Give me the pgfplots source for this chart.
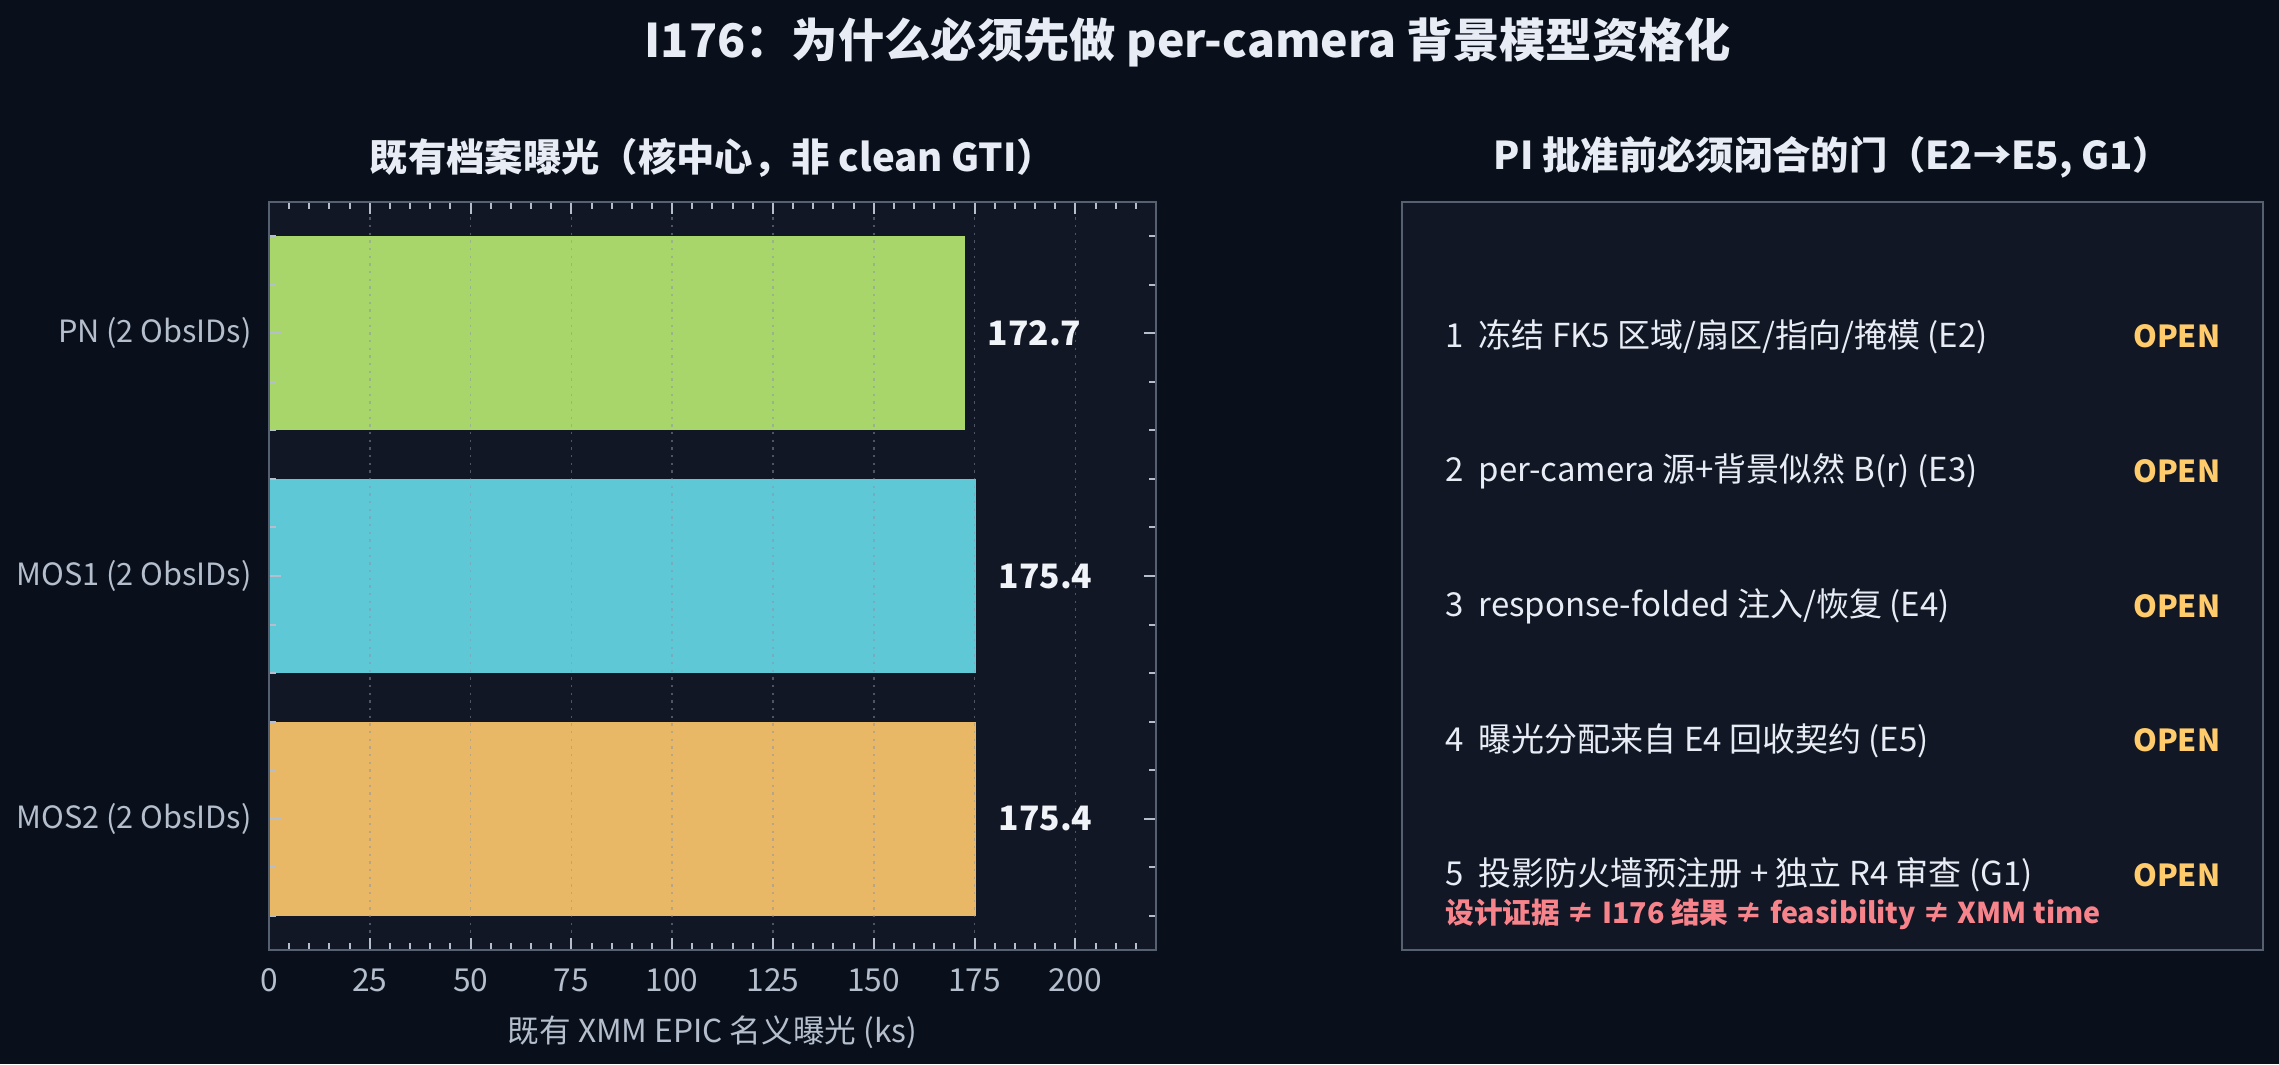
\documentclass[border=0pt]{standalone}
\usepackage{pgfplots}
\pgfplotsset{compat=1.18}
\usepackage{fontspec}
\setmainfont{Noto Sans CJK SC}
\definecolor{bgc}{HTML}{0A101B}
\definecolor{facec}{HTML}{111725}
\definecolor{spinec}{HTML}{556070}
\definecolor{tickc}{HTML}{B4BECD}
\definecolor{titlec}{HTML}{E8ECF4}
\definecolor{valc}{HTML}{F0F3F8}
\definecolor{gridc}{HTML}{8A94A6}
\definecolor{barg}{HTML}{A9D66B}
\definecolor{barc}{HTML}{5EC8D6}
\definecolor{baro}{HTML}{E9B866}
\definecolor{openc}{HTML}{FFCB6B}
\definecolor{redc}{HTML}{F7838B}
\begin{document}
\begin{tikzpicture}
\fill[bgc] (0pt,0pt) rectangle (683.7pt,319.2pt);
\useasboundingbox (0pt,0pt) rectangle (683.7pt,319.2pt);
% main title
\node[text=titlec, font=\bfseries\fontsize{13.9}{16}\selectfont] at (356.4pt,306.6pt) {I176：为什么必须先做 per-camera 背景模型资格化};
% left title
\node[text=titlec, font=\bfseries\fontsize{11.5}{14}\selectfont] at (213.75pt,271.8pt) {既有档案曝光（核中心，非 clean GTI）};
% right title
\node[text=titlec, font=\bfseries\fontsize{11.5}{14}\selectfont] at (549.75pt,272.1pt) {PI 批准前必须闭合的门（E2→E5, G1）};

\begin{axis}[
  at={(80.7pt,34.2pt)}, anchor=south west,
  scale only axis, width=266.1pt, height=224.4pt,
  xbar, bar width=0.8,
  xmin=0, xmax=220, ymin=-0.54, ymax=2.54, y dir=reverse,
  axis background/.style={fill=facec},
  axis line style={spinec, line width=0.6pt},
  axis on top,
  xtick={0,25,...,200},
  minor xtick={5,10,...,215},
  ytick={0,1,2},
  yticklabels={PN (2 ObsIDs), MOS1 (2 ObsIDs), MOS2 (2 ObsIDs)},
  minor ytick={-0.4,-0.2,0.2,0.4,0.6,0.8,1.2,1.4,1.6,1.8,2.2,2.4},
  tick align=inside,
  major tick length=3.6pt, minor tick length=2pt,
  every tick/.style={tickc, line width=0.6pt},
  /pgf/number format/assume math mode=true,
  tick label style={font=\fontsize{9.5}{12}\selectfont, text=tickc, inner sep=0pt},
  yticklabel style={font=\fontsize{9.2}{12}\selectfont},
  xticklabel shift=5.4pt, yticklabel shift=5pt,
  xmajorgrids,
  major x grid style={gridc, opacity=0.5, line width=0.5pt, dash pattern=on 0.7pt off 1.6pt},
  xlabel={既有 XMM EPIC 名义曝光 (ks)},
  xlabel style={font=\fontsize{9.5}{12}\selectfont, text=tickc, at={(axis description cs:0.5,0)}, anchor=center, yshift=-24.6pt},
  point meta=x,
  nodes near coords={\pgfmathprintnumber[fixed,precision=1,fixed zerofill]{\pgfplotspointmeta}},
  every node near coord/.style={anchor=west, xshift=6.5pt, inner sep=0pt, text=valc, font=\bfseries\fontsize{10.1}{12}\selectfont},
]
\addplot[fill=barg, draw=none, bar shift=0pt] coordinates {(172.7,0)};
\addplot[fill=barc, draw=none, bar shift=0pt] coordinates {(175.4,1)};
\addplot[fill=baro, draw=none, bar shift=0pt] coordinates {(175.4,2)};
\end{axis}

\begin{axis}[
  at={(420.6pt,34.2pt)}, anchor=south west,
  scale only axis, width=258.3pt, height=224.4pt,
  xmin=0, xmax=1, ymin=0, ymax=1,
  xtick=\empty, ytick=\empty,
  axis background/.style={fill=facec},
  axis line style={spinec, line width=0.6pt},
  clip=false,
]
\node[anchor=west, text=titlec, font=\fontsize{9.9}{12}\selectfont] at (axis cs:0.037,0.82) {1\hspace{0.45em}冻结 FK5 区域/扇区/指向/掩模 (E2)};
\node[anchor=west, text=titlec, font=\fontsize{9.9}{12}\selectfont] at (axis cs:0.037,0.64) {2\hspace{0.45em}per-camera 源+背景似然 B(r) (E3)};
\node[anchor=west, text=titlec, font=\fontsize{9.9}{12}\selectfont] at (axis cs:0.037,0.46) {3\hspace{0.45em}response-folded 注入/恢复 (E4)};
\node[anchor=west, text=titlec, font=\fontsize{9.9}{12}\selectfont] at (axis cs:0.037,0.28) {4\hspace{0.45em}曝光分配来自 E4 回收契约 (E5)};
\node[anchor=west, text=titlec, font=\fontsize{9.9}{12}\selectfont] at (axis cs:0.037,0.10) {5\hspace{0.45em}投影防火墙预注册 + 独立 R4 审查 (G1)};
\node[anchor=west, text=redc, font=\bfseries\fontsize{8.6}{12}\selectfont] at (axis cs:0.037,0.048) {设计证据 ≠ I176 结果 ≠ feasibility ≠ XMM time};
\node[anchor=east, text=openc, font=\bfseries\fontsize{9.1}{12}\selectfont] at (axis cs:0.964,0.82) {OPEN};
\node[anchor=east, text=openc, font=\bfseries\fontsize{9.1}{12}\selectfont] at (axis cs:0.964,0.64) {OPEN};
\node[anchor=east, text=openc, font=\bfseries\fontsize{9.1}{12}\selectfont] at (axis cs:0.964,0.46) {OPEN};
\node[anchor=east, text=openc, font=\bfseries\fontsize{9.1}{12}\selectfont] at (axis cs:0.964,0.28) {OPEN};
\node[anchor=east, text=openc, font=\bfseries\fontsize{9.1}{12}\selectfont] at (axis cs:0.964,0.10) {OPEN};
\end{axis}
\end{tikzpicture}
\end{document}
